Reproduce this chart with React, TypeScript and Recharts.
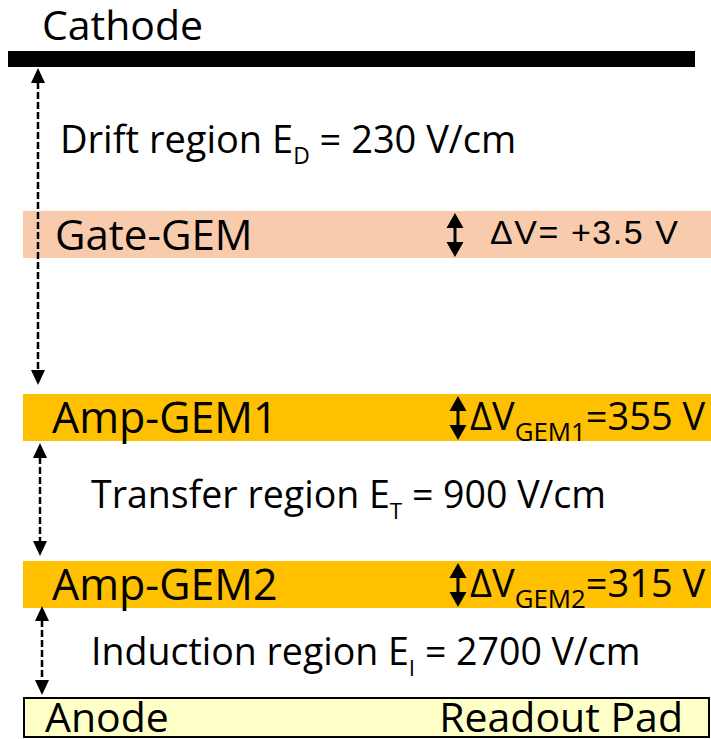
import { ComposedChart, XAxis, YAxis, ReferenceArea, ReferenceLine, ReferenceDot } from 'recharts';

// diagram coordinates: x across the detector, y = depth from the top (px units)
const layerNames = ['Gate-GEM', 'Amp-GEM1', 'Amp-GEM2'];
const layerTop = [211, 394, 561];
const layerBottom = [258, 441, 608];
const voltageSubs = ['', 'GEM1', 'GEM2'];
const voltageValues = ['= +3.5 V', '=355 V', '=315 V'];

const gapNames = ['Drift region E', 'Transfer region E', 'Induction region E'];
const gapSubs = ['D', 'T', 'I'];
const gapFields = [230, 900, 2700];
const gapTop = [68, 443, 606];
const gapBottom = [385, 556, 695];
const gapArrowX = [38, 40, 42];

const cathodeY = [51, 67];
const anodeY = [698, 737];

const W = 711;
const H = 739;
const FONT = '"Open Sans", sans-serif';
const layerFill = ['#F8CBAD', '#FFC000', '#FFC000'];
const gapTextX = [60, 91, 91];
const gapTextY = [153, 508, 665];
const gapTextSize = [38, 37.5, 37.5];

function Arrow(props: any, dashed: boolean, head: number, width: number) {
  const { x1, y1, y2 } = props;
  const x = x1;
  const top = Math.min(y1, y2);
  const bot = Math.max(y1, y2);
  return (
    <g>
      <line
        x1={x}
        x2={x}
        y1={top + head - 1}
        y2={bot - head + 1}
        stroke="#000"
        strokeWidth={dashed ? 2.5 : 3}
        strokeDasharray={dashed ? '7 3' : undefined}
      />
      <polygon points={`${x},${top} ${x - width / 2},${top + head} ${x + width / 2},${top + head}`} fill="#000" />
      <polygon points={`${x},${bot} ${x - width / 2},${bot - head} ${x + width / 2},${bot - head}`} fill="#000" />
    </g>
  );
}

function SubText(props: any) {
  const { cx, cy, main, sub, rest, size, family, subShift = 0.28, subScale = 0.6 } = props;
  return (
    <text x={cx} y={cy} fontSize={size} fontFamily={family ?? FONT} fill="#000">
      {main}
      {sub ? (
        <tspan dy={size * subShift} fontSize={size * subScale}>
          {sub}
        </tspan>
      ) : null}
      <tspan dy={sub ? -size * subShift : 0}>{rest}</tspan>
    </text>
  );
}

export default function App() {
  return (
    <div style={{ position: 'absolute', left: 0, top: 0, background: '#fff' }}>
      <ComposedChart width={W} height={H} data={[{ x: 0, y: 0 }]} margin={{ top: 0, right: 0, bottom: 0, left: 0 }}>
        <XAxis type="number" dataKey="x" domain={[0, W]} hide allowDataOverflow />
        <YAxis type="number" dataKey="y" domain={[0, H]} reversed hide allowDataOverflow />

        {/* cathode plate */}
        <ReferenceArea x1={8} x2={695} y1={cathodeY[0]} y2={cathodeY[1]} fill="#000" fillOpacity={1} stroke="none" ifOverflow="visible" />
        <ReferenceDot
          x={42}
          y={40}
          r={0}
          ifOverflow="visible"
          shape={(p: any) => <SubText cx={p.cx} cy={p.cy} main="Cathode" size={41} />}
        />

        {/* GEM foils */}
        {layerNames.map((name, i) => (
          <ReferenceArea
            key={name}
            x1={23}
            x2={W}
            y1={layerTop[i]}
            y2={layerBottom[i]}
            fill={layerFill[i]}
            fillOpacity={1}
            stroke="none"
            ifOverflow="visible"
          />
        ))}
        {layerNames.map((name, i) => (
          <ReferenceDot
            key={'n' + name}
            x={i === 0 ? 55 : 52}
            y={layerBottom[i] - 8}
            r={0}
            ifOverflow="visible"
            shape={(p: any) => <SubText cx={p.cx} cy={p.cy} main={name} size={i === 0 ? 42 : 43} />}
          />
        ))}
        {layerNames.map((name, i) => (
          <ReferenceLine
            key={'a' + name}
            segment={[
              { x: i === 0 ? 455 : 458, y: layerTop[i] + 2 },
              { x: i === 0 ? 455 : 458, y: layerBottom[i] - 1 },
            ]}
            ifOverflow="visible"
            shape={(p: any) => Arrow(p, false, 15, 17)}
          />
        ))}
        {layerNames.map((name, i) => (
          <ReferenceDot
            key={'v' + name}
            x={i === 0 ? 490 : 470}
            y={i === 0 ? layerBottom[i] - 14 : layerBottom[i] - 11}
            r={0}
            ifOverflow="visible"
            shape={(p: any) =>
              i === 0 ? (
                <text x={p.cx} y={p.cy} fontSize={34} fontFamily='"Liberation Sans", Arial, sans-serif' textLength={188} lengthAdjust="spacing" fill="#000">
                  {'ΔV' + voltageValues[i]}
                </text>
              ) : (
                <SubText cx={p.cx} cy={p.cy} main="ΔV" sub={voltageSubs[i]} rest={voltageValues[i]} size={38} subShift={0.3} subScale={0.68} />
              )
            }
          />
        ))}

        {/* gaps between electrodes */}
        {gapNames.map((name, i) => (
          <ReferenceLine
            key={'g' + name}
            segment={[
              { x: gapArrowX[i], y: gapTop[i] },
              { x: gapArrowX[i], y: gapBottom[i] },
            ]}
            ifOverflow="visible"
            shape={(p: any) => Arrow(p, true, 15, 14)}
          />
        ))}
        {gapNames.map((name, i) => (
          <ReferenceDot
            key={'t' + name}
            x={gapTextX[i]}
            y={gapTextY[i]}
            r={0}
            ifOverflow="visible"
            shape={(p: any) => (
              <SubText cx={p.cx} cy={p.cy} main={name} sub={gapSubs[i]} rest={` = ${gapFields[i]} V/cm`} size={gapTextSize[i]} />
            )}
          />
        ))}

        {/* anode / readout pad */}
        <ReferenceArea
          x1={24}
          x2={709}
          y1={anodeY[0]}
          y2={anodeY[1]}
          fill="#FFFFC8"
          fillOpacity={1}
          stroke="#000"
          strokeWidth={2}
          ifOverflow="visible"
        />
        <ReferenceDot x={45} y={732} r={0} ifOverflow="visible" shape={(p: any) => <SubText cx={p.cx} cy={p.cy} main="Anode" size={41} />} />
        <ReferenceDot
          x={683}
          y={732}
          r={0}
          ifOverflow="visible"
          shape={(p: any) => (
            <text x={p.cx} y={p.cy} fontSize={41} fontFamily={FONT} textAnchor="end" fill="#000">
              Readout Pad
            </text>
          )}
        />
      </ComposedChart>
    </div>
  );
}
